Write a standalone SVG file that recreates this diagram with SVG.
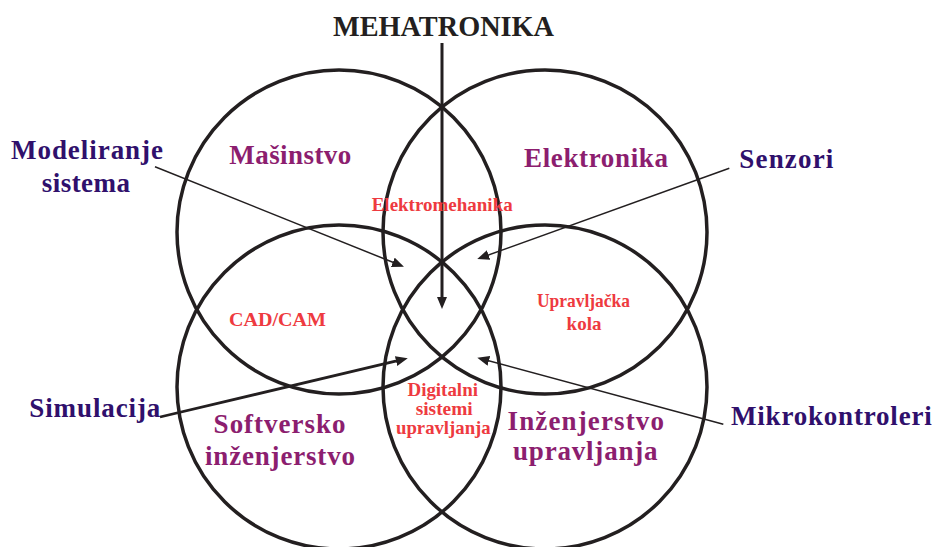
<svg xmlns="http://www.w3.org/2000/svg" width="933" height="547" viewBox="0 0 933 547">
<style>
.c{fill:none;stroke:#231f20;stroke-width:3.5}
.t{font-family:"Liberation Serif","Times New Roman",serif;font-weight:bold}
.m{fill:#8c1e6f;font-size:27px}
.r{fill:#ee3a40;font-size:19px}
.o{fill:#30106c;font-size:27px}
.a{stroke:#231f20;fill:none}
</style>
<defs>
<marker id="ah" markerUnits="userSpaceOnUse" markerWidth="13" markerHeight="11" refX="6" refY="5" orient="auto">
<path d="M0,0 L12,5 L0,10 Z" fill="#231f20"/>
</marker>
</defs>
<rect width="933" height="547" fill="#ffffff"/>
<g id="circles">
<circle id="c-masinstvo" class="c" cx="339" cy="232" r="162"/>
<circle id="c-elektronika" class="c" cx="545" cy="232" r="162"/>
<circle id="c-softversko" class="c" cx="339" cy="387" r="162"/>
<circle id="c-upravljanje" class="c" cx="545" cy="387" r="162"/>
</g>
<g id="connectors">
<line class="a" x1="442" y1="43" x2="442" y2="303" stroke-width="3" marker-end="url(#ah)"/>
<line class="a" x1="155" y1="166.7" x2="398.4" y2="264.5" stroke-width="1.5" marker-end="url(#ah)"/>
<line class="a" x1="729.3" y1="168.3" x2="482.9" y2="257" stroke-width="1.5" marker-end="url(#ah)"/>
<line class="a" x1="160" y1="417" x2="401.9" y2="359.7" stroke-width="2.8" marker-end="url(#ah)"/>
<line class="a" x1="723.3" y1="424.3" x2="483.1" y2="359.3" stroke-width="1.5" marker-end="url(#ah)"/>
</g>
<g id="title">
<text class="t" x="333" y="36" font-size="29" fill="#231f20" textLength="221" lengthAdjust="spacingAndGlyphs">MEHATRONIKA</text>
</g>
<g id="n-masinstvo"><text class="t m" x="229.3" y="164" textLength="122">Mašinstvo</text></g>
<g id="n-elektronika"><text class="t m" x="524" y="167" textLength="144">Elektronika</text></g>
<g id="n-elektromehanika"><text class="t r" x="371.7" y="210.5" textLength="141" lengthAdjust="spacingAndGlyphs">Elektromehanika</text></g>
<g id="n-cadcam"><text class="t r" x="229" y="326" font-size="20" textLength="97" lengthAdjust="spacingAndGlyphs">CAD/CAM</text></g>
<g id="n-upravljacka"><text class="t r" x="537" y="307" textLength="93" lengthAdjust="spacingAndGlyphs">Upravljačka</text><text class="t r" x="584" y="330" text-anchor="middle">kola</text></g>
<g id="n-digitalni"><text class="t r" x="407.5" y="395.5" textLength="70.4" lengthAdjust="spacingAndGlyphs">Digitalni</text><text class="t r" x="415.7" y="415" textLength="57" lengthAdjust="spacingAndGlyphs">sistemi</text><text class="t r" x="396" y="434" textLength="94.7" lengthAdjust="spacingAndGlyphs">upravljanja</text></g>
<g id="n-softversko"><text class="t m" x="213.6" y="433" textLength="132">Softversko</text><text class="t m" x="205" y="465" textLength="150">inženjerstvo</text></g>
<g id="n-inzenjerstvo"><text class="t m" x="507.5" y="430" textLength="156.5">Inženjerstvo</text><text class="t m" x="513" y="460" textLength="144.6">upravljanja</text></g>
<g id="n-modeliranje"><text class="t o" x="11" y="159" textLength="152">Modeliranje</text><text class="t o" x="41.7" y="191.5" textLength="88.3">sistema</text></g>
<g id="n-senzori"><text class="t o" x="739.3" y="167.7" textLength="94">Senzori</text></g>
<g id="n-simulacija"><text class="t o" x="29.3" y="417" textLength="131">Simulacija</text></g>
<g id="n-mikrokontroleri"><text class="t o" x="731" y="425" textLength="200.7">Mikrokontroleri</text></g>
</svg>
